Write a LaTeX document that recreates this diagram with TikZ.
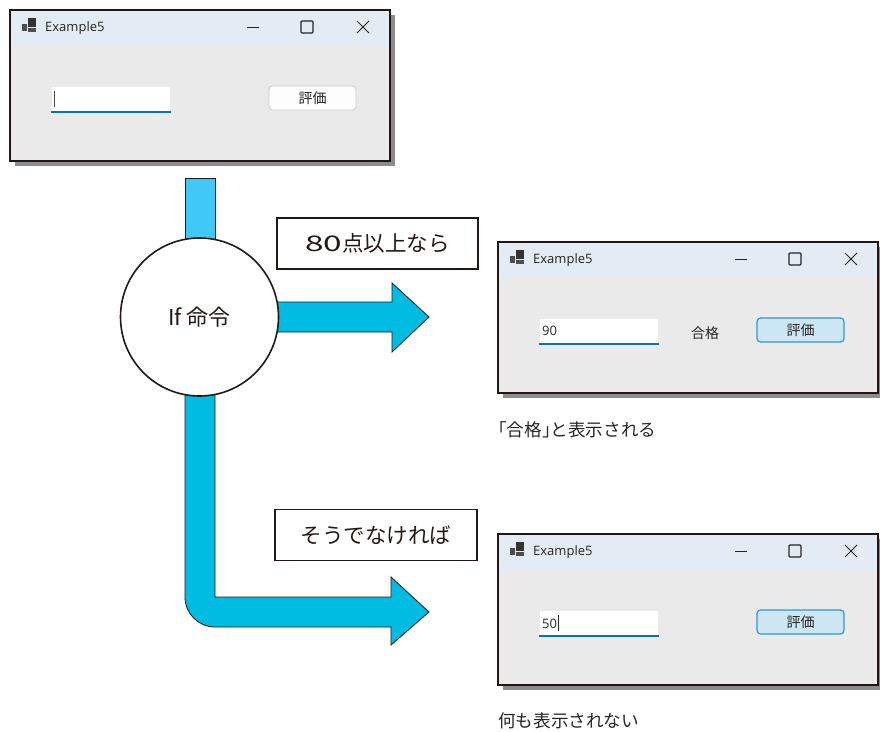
\documentclass[tikz,border=0pt]{standalone}
\usepackage{fontspec}
\setmainfont{Noto Sans CJK JP}
\newfontfamily\uifont{Open Sans}
\newfontfamily\widefont[FakeStretch=1.55]{Noto Sans CJK JP}
\definecolor{flowblue}{HTML}{00BCE3}
\definecolor{flowlight}{HTML}{40C8F6}
\definecolor{inkline}{HTML}{231815}
\definecolor{titlebar}{HTML}{E3ECF4}
\definecolor{winbody}{HTML}{EAEAEA}
\definecolor{winshadow}{HTML}{8C8C8C}
\definecolor{inputline}{HTML}{0A6FC0}
\definecolor{btnline}{HTML}{2F98D4}
\definecolor{btnfill}{HTML}{CDE6F4}
\definecolor{btnplain}{HTML}{FDFDFD}
\definecolor{btnedge}{HTML}{CFCFCF}
\tikzset{
    flowshape/.style={fill=flowblue, draw=inkline, line width=0.8pt, line join=miter},
    labelbox/.style={draw=inkline, fill=white, line width=1.5pt, minimum height=51, inner sep=0pt, font=\fontsize{21.5}{21.5}\selectfont, text=inkline},
    caption/.style={anchor=west, inner sep=0pt, font=\fontsize{17.6}{17.6}\selectfont, text=black!85},
    uitext/.style={inner sep=0pt, font=\uifont\fontsize{13}{13}\selectfont, text=black!85},
    cjktext/.style={inner sep=0pt, font=\fontsize{14}{14}\selectfont, text=black!85},
    winbtn/.style={rounded corners=3.5, minimum width=87, minimum height=24, inner sep=0pt, font=\fontsize{14}{14}\selectfont, text=black!85},
}
% one form window: name, left, top, text box content, button look
\newcommand{\formwindow}[5]{
    \begin{scope}[shift={(#2,#3)}]
        \fill[winshadow] (5,5) rectangle (385,156);
        \fill[winbody] (0,0) rectangle (380,151);
        \fill[titlebar] (0,0) rectangle (380,35);
        \draw[inkline!90!black, line width=2.4pt] (0,0) rectangle (380,151);
        \fill[black!70] (12,13.5) rectangle (17,21);
        \fill[black!80] (18,8) rectangle (26,17);
        \fill[black!70] (18,18) rectangle (26,22);
        \node[uitext, anchor=west] (#1title) at (35,18) {Example5};
        \draw[black!85, line width=1pt] (237,17.5) -- (249,17.5);
        \draw[black!85, line width=1.1pt, rounded corners=1] (291,11) rectangle (303,23);
        \draw[black!85, line width=1pt] (347,11) -- (359,23) (359,11) -- (347,23);
        \node[fill=white, minimum width=118, minimum height=25, inner sep=0pt] (#1input) at (101,89.5) {};
        \draw[inputline, line width=2pt] ([xshift=-1]#1input.south west) -- ([xshift=1]#1input.south east);
        \node[uitext, anchor=west] at (44,89) {#4};
        \node[winbtn, #5] (#1button) at (302.5,88) {\raisebox{-1pt}{評価}};
    \end{scope}
}
\begin{document}
\begin{tikzpicture}[x=1pt, y=-1pt]
    \useasboundingbox (0,0) rectangle (880,731);
    \formwindow{start}{10}{10}{\color{black!70}\rule[-2pt]{1.2pt}{16pt}}{fill=btnplain, draw=btnedge, line width=0.8pt}
    \formwindow{pass}{498}{242}{90}{fill=btnfill, draw=btnline, line width=1.2pt}
    \formwindow{fail}{498}{534}{50\kern0.5pt\rule[-3pt]{0.8pt}{16pt}}{fill=btnfill, draw=btnline, line width=1.2pt}
    \node[cjktext] (passresult) at (705,333) {合格};

    \draw[flowshape, fill=flowlight] (185,178) rectangle (215,250);
    \draw[flowshape] (185,380) -- (215,380) -- (215,597) -- (391,597) -- (391,577) -- (429,612)
        -- (391,645) -- (391,627) -- (215,627) arc (90:180:30) -- cycle;
    \draw[flowshape] (260,302) -- (392,302) -- (392,283) -- (429,317) -- (392,352) -- (392,332) -- (260,332) -- cycle;
    \node[circle, draw=inkline, fill=white, line width=1.6pt, minimum size=158, inner sep=0pt, text=inkline, font=\fontsize{22}{22}\selectfont] (ifnode) at (199.5,317) {\raisebox{-2.5pt}{If 命令}};

    \node[labelbox, minimum width=201] (passlabel) at (377.5,243.5) {{\widefont 80}点以上なら};
    \node[labelbox, minimum width=202] (faillabel) at (376,535) {そうでなければ};

    \node[caption] (passcaption) at (489,430) {「合格」\kern-9pt と表示される};
    \node[caption] (failcaption) at (498,721) {何も表示されない};
\end{tikzpicture}
\end{document}
